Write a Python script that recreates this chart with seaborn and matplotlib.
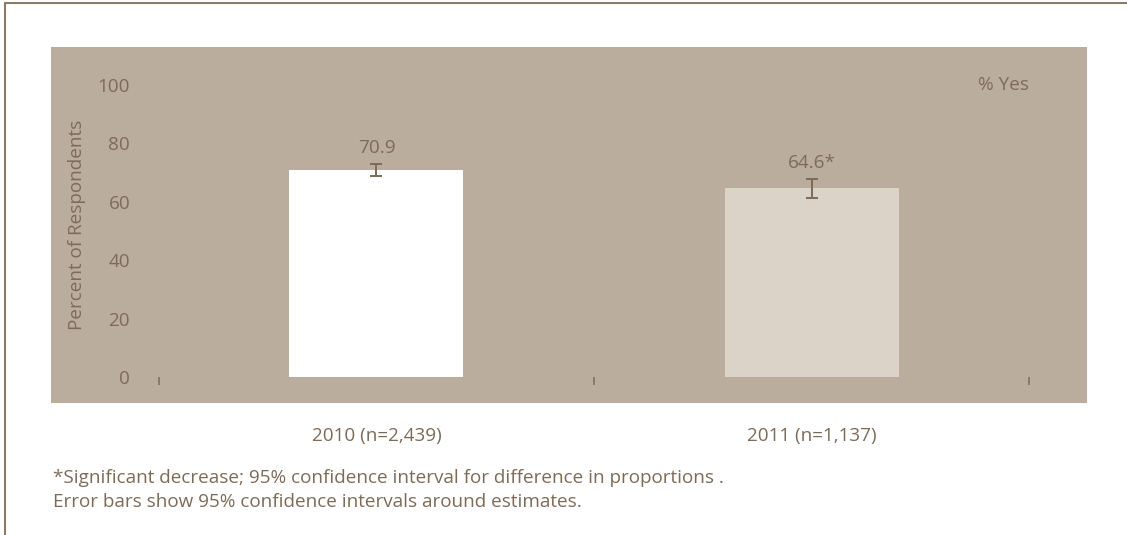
import matplotlib
matplotlib.use("Agg")
import matplotlib.pyplot as plt
from matplotlib.lines import Line2D
import seaborn as sns
import pandas as pd

# Survey results: share answering "yes", with 95% confidence half-widths
categories = ["2010 (n=2,439)", "2011 (n=1,137)"]
percent_yes = [70.9, 64.6]
ci_halfwidth = [2.1, 3.2]
significance = ["", "*"]
yticks = [0, 20, 40, 60, 80, 100]
series_label = "% Yes"
ylabel = "Percent of Respondents"
footnotes = [
    "*Significant decrease; 95% confidence interval for difference in proportions .",
    "Error bars show 95% confidence intervals around estimates.",
]

panel_color = "#BAAD9E"
bar_colors = ["#FFFFFF", "#DBD3C8"]
text_color = "#7D6B58"
fs = 13.6

sns.set_theme(style="white")
plt.rcParams["font.family"] = ["Open Sans", "DejaVu Sans"]

W, H = 1127, 535
fig = plt.figure(figsize=(W / 100, H / 100), dpi=100)
fig.patch.set_facecolor("white")

# axes covers the tan panel
left, right, top, bottom = 51, 1087, 47, 403
ax = fig.add_axes([left / W, (H - bottom) / H, (right - left) / W, (bottom - top) / H])
ax.set_facecolor(panel_color)

df = pd.DataFrame({"year": categories, "pct": percent_yes})
sns.barplot(data=df, x="year", y="pct", hue="year", palette=bar_colors,
            width=0.4, legend=False, ax=ax, linewidth=0, saturation=1)

xs = list(range(len(categories)))
ax.errorbar(xs, percent_yes, yerr=ci_halfwidth, fmt="none", ecolor=text_color,
            elinewidth=1.4, capsize=4.5, capthick=1.4)

for x, v, e, s in zip(xs, percent_yes, ci_halfwidth, significance):
    ax.text(x, v + e + 2.3, f"{v:.1f}{s}", ha="center", va="bottom",
            fontsize=fs, color=text_color)

ax.set_xlim(-0.748, 1.633)
ax.set_ylim(-8.9, 113.0)

ax.text(len(categories) - 0.5, 100, series_label, ha="right", va="center",
        fontsize=fs, color=text_color)

for sp in ax.spines.values():
    sp.set_visible(False)
ax.spines["bottom"].set_position(("data", 0))

ax.set_yticks(yticks)
ax.set_yticklabels([str(t) for t in yticks])
ax.tick_params(axis="y", length=0, pad=-57, labelsize=fs, labelcolor=text_color)

ax.set_xticks(xs)
ax.set_xticklabels(categories)
ax.set_xticks([x - 0.5 for x in xs] + [xs[-1] + 0.5], minor=True)
ax.tick_params(axis="x", which="major", length=0, pad=36, labelsize=fs,
               labelcolor=text_color)
ax.tick_params(axis="x", which="minor", direction="out", length=5.5, width=1.1,
               color=text_color, bottom=True)
ax.set_xlabel("")

ax.set_ylabel(ylabel, fontsize=fs, color=text_color)
ax.yaxis.set_label_coords(0.034, 0.5)

for i, line in enumerate(footnotes):
    fig.text(53 / W, 1 - (478 + 24 * i) / H, line, ha="left", va="center",
             fontsize=fs, color=text_color)

# frame lines along top and left edges
frame = "#8C7B68"
fig.add_artist(Line2D([5 / W, 1], [1 - 3 / H, 1 - 3 / H], color=frame, lw=1.5,
                      transform=fig.transFigure))
fig.add_artist(Line2D([5 / W, 5 / W], [0, 1 - 3 / H], color=frame, lw=1.5,
                      transform=fig.transFigure))

fig.savefig("out.png", dpi=100, facecolor="white")
